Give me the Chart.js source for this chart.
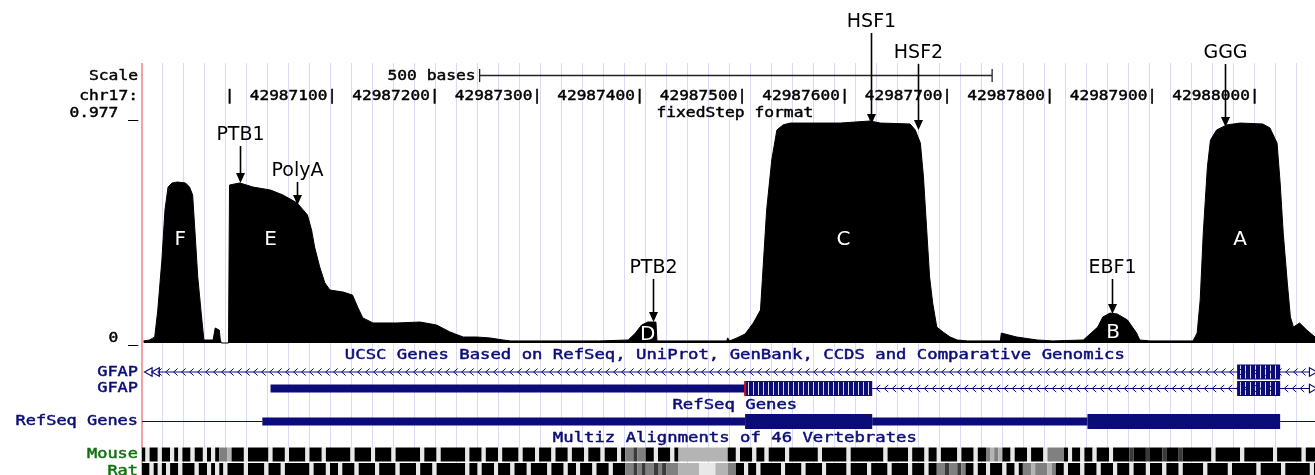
<!DOCTYPE html>
<html>
<head>
<meta charset="utf-8">
<script src="https://cdn.jsdelivr.net/npm/chart.js@4.4.1/dist/chart.umd.min.js"></script>
<style>
  html, body { margin: 0; background: #fff; }
  #wrap { position: relative; width: 1315px; height: 475px; }
</style>
</head>
<body>
<div id="wrap"><canvas id="browser"></canvas></div>
<script>
// window shown on chr17
const viewStart = 42986914.6;
const viewEnd = 42988059;

// position ruler
const chrTickVals = [42987000, 42987100, 42987200, 42987300, 42987400, 42987500,
  42987600, 42987700, 42987800, 42987900, 42988000];
const chrTickLabels = ["|", "42987100|", "42987200|", "42987300|", "42987400|", "42987500|",
  "42987600|", "42987700|", "42987800|", "42987900|", "42988000|"];
const scaleBar = [42987244, 42987744];
const scaleLabel = "500 bases";

// signal track: position offset from 42987000 and value
const sigBase = 42987000;
const sigPos = [-84, -78, -73, -70, -66, -63, -60, -56, -51, -43, -39, -36, -34, -31, -27, -25,
  -16, -14, -10, -9, -8, -1, 0, 10, 23, 40, 52, 66, 76, 80, 83, 88, 93, 98, 111, 120, 125, 130,
  140, 163, 186, 202, 215, 228, 241, 254, 267, 274, 361, 389, 396, 402, 408, 416, 417, 485, 486,
  488, 495, 503, 511, 518, 520, 524, 529, 534, 540, 547, 596, 625, 635, 664, 669, 674, 677, 680,
  683, 686, 690, 696, 703, 710, 720, 752, 753, 768, 788, 803, 833, 847, 852, 859, 866, 876, 885,
  888, 898, 940, 944, 947, 950, 954, 957, 963, 973, 986, 1008, 1015, 1022, 1025, 1028, 1032,
  1035, 1038, 1044, 1051, 1059];
const sigVal = [0.009, 0.013, 0.026, 0.143, 0.360, 0.577, 0.677, 0.695, 0.699, 0.695, 0.677,
  0.643, 0.504, 0.287, 0.100, 0.013, 0.013, 0.065, 0.056, 0.013, 0, 0, 0.686, 0.695, 0.677,
  0.664, 0.643, 0.608, 0.556, 0.491, 0.417, 0.330, 0.261, 0.230, 0.221, 0.208, 0.156, 0.109,
  0.087, 0.087, 0.091, 0.078, 0.048, 0.026, 0.026, 0.022, 0.013, 0.009, 0.009, 0.013, 0.043,
  0.078, 0.091, 0.091, 0.009, 0.009, 0.022, 0.009, 0.022, 0.039, 0.087, 0.143, 0.287, 0.577,
  0.795, 0.925, 0.947, 0.955, 0.955, 0.964, 0.955, 0.951, 0.925, 0.868, 0.721, 0.504, 0.287,
  0.174, 0.069, 0.048, 0.026, 0.013, 0.009, 0.009, 0.043, 0.026, 0.013, 0.009, 0.013, 0.069,
  0.113, 0.130, 0.126, 0.100, 0.043, 0.013, 0.009, 0.009, 0.043, 0.187, 0.478, 0.764, 0.881,
  0.925, 0.947, 0.955, 0.951, 0.934, 0.868, 0.695, 0.478, 0.261, 0.113, 0.069, 0.087, 0.056,
  0.026];
const sigTicks = [0, 0.977];
const sigTickLabels = ["0 _", "0.977 _"];

// peaks and motif callouts
const peakNames = ["F", "E", "D", "C", "B", "A"];
const peakPos = [42986952, 42987040, 42987408, 42987599, 42987862, 42987986];
const peakLevel = [0.447, 0.447, 0.035, 0.447, 0.043, 0.447];
const motifNames = ["HSF1", "HSF2", "GGG", "PTB1", "PolyA", "PTB2", "EBF1"];
const motifPos = [42987626, 42987672, 42987971, 42987010, 42987066, 42987413, 42987861];
const motifTip = [0.951, 0.925, 0.938, 0.695, 0.599, 0.091, 0.126];
const motifLabel = [1.394, 1.259, 1.259, 0.903, 0.747, 0.326, 0.326];

// annotation tracks (rows from top)
const rowLabels = ["", "GFAP", "GFAP", "", "RefSeq Genes", "", "Mouse", "Rat"];
const trackTitles = ["UCSC Genes Based on RefSeq, UniProt, GenBank, CCDS and Comparative Genomics",
  "RefSeq Genes", "Multiz Alignments of 46 Vertebrates"];
const trackTitleRows = [0, 3, 5];
const titleCenter = 42987493;

const ucsc1Line = [[42986926, 42988056]];
const ucsc1Cds = [[42987983, 42988025]];
const ucsc2Line = [[42987627, 42988056]];
const ucsc2Utr = [[42987040, 42987503]];
const ucsc2Cds = [[42987503, 42987627], [42987983, 42988025]];
const ucsc2Start = [[42987502, 42987504]];
const refLine = [[42986900, 42987032], [42988025, 42988080]];
const refUtr = [[42987032, 42987503], [42987627, 42987837]];
const refCds = [[42987503, 42987627], [42987837, 42988025]];
const endMarkPos = [42986922, 42986929, 42988056, 42988056];
const endMarkRow = [1, 1, 1, 2];
const endMarkDir = [-90, -90, 90, 90];

// conservation, 4 bases per bin (0 = black ... 4 = white)
const consStart = 42986914;
const consStep = 4;
const mouseCons = ("0400400404004004040" + "223" + "000400000400040000400040" +
  "000004000040000400000040004000" + "000400040004000040004000400040004000400040" +
  "22122" + "00400040" + "333333333333" + "0040004004" + "0000400000004000000400000000400" +
  "0004000400400004000400" + "2323" + "00400040004" + "2222" + "04004004000400" +
  "0010001000100010" + "000000400000040000000400000040000").split("").map(Number);
const ratCons = ("0040404004000400404" + "040" + "000400004000400000040004" +
  "004000400004000040000400040000" + "000400400040004000400004000400400040004000" +
  "2212122121222" + "333334444333" + "2200400400" + "0004000040000400000400004000040" +
  "0004000400" + "2212212" + "00400400040040" + "22322232" +
  "004000400040004000400040004000400" + "000400000400000040000040000004000").split("").map(Number);

const NAVY = "#0c0c78";
const GREEN = "#10700f";
const GREYS = ["#000000", "#3a3a3a", "#808080", "#b4b4b4", "#e8e8e8"];

const gridStep = 21 / 1.025;
const gridVals = Array.from({ length: 56 }, (_, k) => viewStart + k * gridStep);

function spans(list, row) {
  const out = [];
  list.forEach(([s, e]) => {
    out.push({ x: s, y: row }, { x: e, y: row }, { x: e, y: null });
  });
  return out;
}

function blockSet(list, row, width, color, extra) {
  return Object.assign({
    type: "line", data: spans(list, row), yAxisID: "yt",
    borderColor: color, backgroundColor: color, borderWidth: width,
    borderCapStyle: "butt", pointRadius: 0, fill: false, spanGaps: false,
    tension: 0, clip: 0
  }, extra);
}

function consSet(levels, row, width) {
  const data = levels.map((l, i) => ({ x: consStart + i * consStep, y: row }));
  data.push({ x: consStart + levels.length * consStep, y: row });
  return {
    type: "line", data, yAxisID: "yt", borderColor: "#000", borderWidth: width,
    borderCapStyle: "butt", pointRadius: 0, fill: false, tension: 0, clip: 0, order: 6,
    segment: { borderColor: c => GREYS[levels[c.p0DataIndex]] }
  };
}

// UCSC-like bitmap text: stretched mono with a light stroke
function monoText(ctx, text, x, y, align, charW, color) {
  ctx.save();
  ctx.font = '14px "DejaVu Sans Mono"';
  ctx.fillStyle = color;
  ctx.strokeStyle = color;
  ctx.textBaseline = "middle";
  ctx.textAlign = align;
  const sx = charW / ctx.measureText("0").width;
  ctx.translate(x, y);
  ctx.scale(sx, 1);
  ctx.lineWidth = 0.45;
  ctx.fillText(text, 0, 0);
  ctx.strokeText(text, 0, 0);
  ctx.restore();
}

const overlay = {
  id: "overlay",
  afterDatasetsDraw(chart) {
    const { ctx, chartArea } = chart;
    const xs = chart.scales.x, ys = chart.scales.ys, yt = chart.scales.yt;

    // intron chevrons and exon stripes
    chart.data.datasets.forEach((ds, i) => {
      if (!ds.chevrons && !ds.stripes) return;
      const pts = chart.getDatasetMeta(i).data;
      ctx.save();
      ctx.beginPath();
      ctx.rect(chartArea.left, chartArea.top, chartArea.width, chartArea.height);
      ctx.clip();
      for (let k = 0; k + 1 < pts.length; k += 3) {
        const a = pts[k], b = pts[k + 1], y = a.y;
        if (ds.chevrons) {
          ctx.strokeStyle = NAVY;
          ctx.lineWidth = 1;
          ctx.beginPath();
          for (let cx = a.x + 6; cx < b.x - 3; cx += 8) {
            ctx.moveTo(cx + 2, y - 3.5);
            ctx.lineTo(cx - 2, y);
            ctx.lineTo(cx + 2, y + 3.5);
          }
          ctx.stroke();
        }
        if (ds.stripes) {
          ctx.strokeStyle = "rgba(255,255,255,0.85)";
          ctx.lineWidth = 1;
          ctx.beginPath();
          const h = ds.borderWidth / 2 - 1;
          for (let cx = a.x + 3; cx < b.x - 2; cx += 5) {
            ctx.moveTo(Math.round(cx) + 0.5, y - h);
            ctx.lineTo(Math.round(cx) + 0.5, y + h);
          }
          ctx.stroke();
        }
      }
      ctx.restore();
    });

    // left labels
    monoText(ctx, "Scale", 138, 76, "right", 9.8, "#000");
    monoText(ctx, "chr17:", 138, 96, "right", 9.8, "#000");
    sigTicks.forEach((v, i) => {
      monoText(ctx, sigTickLabels[i], 138, ys.getPixelForValue(v) - 5, "right", 9.8, "#000");
    });
    rowLabels.forEach((lab, r) => {
      if (!lab) return;
      monoText(ctx, lab, 138, yt.getPixelForValue(r), "right", 10.2, r >= 6 ? GREEN : NAVY);
    });

    // scale bar and ruler
    const b0 = xs.getPixelForValue(scaleBar[0]), b1 = xs.getPixelForValue(scaleBar[1]);
    monoText(ctx, scaleLabel, b0 - 4, 76, "right", 9.8, "#000");
    ctx.save();
    ctx.strokeStyle = "#222";
    ctx.lineWidth = 1.3;
    ctx.beginPath();
    ctx.moveTo(b0, 75.5); ctx.lineTo(b1, 75.5);
    ctx.moveTo(b0, 69); ctx.lineTo(b0, 82);
    ctx.moveTo(b1, 69); ctx.lineTo(b1, 82);
    ctx.stroke();
    ctx.restore();
    chrTickVals.forEach((v, i) => {
      monoText(ctx, chrTickLabels[i], xs.getPixelForValue(v) + 5, 96, "right", 9.7, "#000");
    });
    const tc = xs.getPixelForValue(titleCenter);
    monoText(ctx, "fixedStep format", tc, 113, "center", 9.8, "#000");
    trackTitles.forEach((t, i) => {
      monoText(ctx, t, tc, yt.getPixelForValue(trackTitleRows[i]), "center", 10.4, NAVY);
    });

    // peak letters
    ctx.save();
    ctx.font = '20px "DejaVu Sans"';
    ctx.textAlign = "center";
    ctx.textBaseline = "middle";
    ctx.fillStyle = "#fff";
    peakNames.forEach((n, i) => {
      ctx.fillText(n, xs.getPixelForValue(peakPos[i]), ys.getPixelForValue(peakLevel[i]));
    });
    ctx.restore();

    // motif callouts
    ctx.save();
    ctx.font = '19px "DejaVu Sans"';
    ctx.textAlign = "center";
    ctx.textBaseline = "middle";
    ctx.fillStyle = "#000";
    ctx.strokeStyle = "#000";
    motifNames.forEach((n, i) => {
      const x = Math.round(xs.getPixelForValue(motifPos[i])) + 0.5;
      const yl = ys.getPixelForValue(motifLabel[i]);
      const yt0 = ys.getPixelForValue(motifTip[i]);
      ctx.fillText(n, x, yl);
      ctx.lineWidth = 1.6;
      ctx.beginPath();
      ctx.moveTo(x, yl + 11);
      ctx.lineTo(x, yt0 - 8);
      ctx.stroke();
      ctx.beginPath();
      ctx.moveTo(x - 4.5, yt0 - 10);
      ctx.lineTo(x + 4.5, yt0 - 10);
      ctx.lineTo(x, yt0);
      ctx.closePath();
      ctx.fill();
    });
    ctx.restore();
  }
};

new Chart(document.getElementById("browser"), {
  type: "line",
  data: {
    datasets: [
      {
        data: sigPos.map((p, i) => ({ x: sigBase + p, y: sigVal[i] })),
        yAxisID: "ys", borderColor: "#000", backgroundColor: "#000", borderWidth: 1,
        fill: "origin", pointRadius: 0, tension: 0, clip: 0, order: 0
      },
      {
        type: "line", yAxisID: "yt", showLine: false, clip: 0, order: 1,
        data: endMarkPos.map((p, i) => ({ x: p, y: endMarkRow[i] })),
        pointStyle: "triangle", pointRadius: 5, pointRotation: endMarkDir,
        pointBackgroundColor: "#fff", pointBorderColor: NAVY, pointBorderWidth: 1.2
      },
      blockSet(ucsc2Start, 2, 15, "#d01010", { order: 2 }),
      blockSet(ucsc1Cds, 1, 15, NAVY, { order: 3, stripes: true }),
      blockSet(ucsc2Cds, 2, 15, NAVY, { order: 3, stripes: true }),
      blockSet(refCds, 4, 15, NAVY, { order: 3 }),
      blockSet(ucsc2Utr, 2, 8, NAVY, { order: 4 }),
      blockSet(refUtr, 4, 8, NAVY, { order: 4 }),
      blockSet(ucsc1Line, 1, 1, NAVY, { order: 5, chevrons: true }),
      blockSet(ucsc2Line, 2, 1, NAVY, { order: 5, chevrons: true }),
      blockSet(refLine, 4, 1, NAVY, { order: 5 }),
      consSet(mouseCons, 6, 14),
      consSet(ratCons, 7, 16)
    ]
  },
  options: {
    responsive: true,
    maintainAspectRatio: false,
    animation: false,
    events: [],
    layout: { autoPadding: false, padding: { left: 142, top: 63, right: 0, bottom: 0 } },
    plugins: { legend: { display: false }, tooltip: { enabled: false } },
    scales: {
      x: {
        type: "linear", min: viewStart, max: viewEnd,
        ticks: { display: false },
        border: { display: false },
        grid: {
          drawTicks: false,
          color: c => (c.index === 0 ? "#f2a2a2" : "#dadaf6"),
          lineWidth: c => (c.index === 0 ? 2 : 1)
        },
        afterBuildTicks: s => { s.ticks = gridVals.map(v => ({ value: v })); }
      },
      ys: { type: "linear", position: "left", display: false, min: -0.5732, max: 1.2158 },
      yt: { type: "linear", position: "left", display: false, reverse: true, min: -17.727, max: 7.242 }
    }
  },
  plugins: [overlay]
});
</script>
</body>
</html>
